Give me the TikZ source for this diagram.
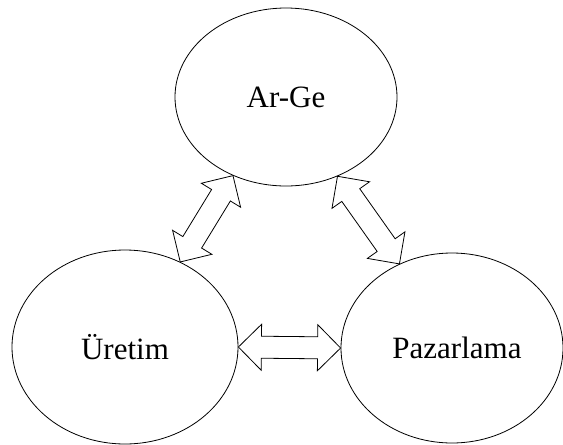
\documentclass[tikz,border=0pt]{standalone}
\usepackage{fontspec}
\setmainfont{Liberation Serif}
\usetikzlibrary{shapes.geometric,calc}
\tikzset{
  bubble/.style={ellipse, draw, line width=0.8pt, inner sep=0pt,
    font=\fontsize{31}{37}\selectfont},
  arrowline/.style={draw, line width=0.8pt, fill=white, line join=miter}
}
\newcommand\twowayarrow[2]{%
  \path[arrowline] (#1)
    -- ($(#1)!23pt!(#2)!23pt!90:(#2)$)
    -- ($(#1)!23pt!(#2)!11pt!90:(#2)$)
    -- ($(#2)!23pt!(#1)!11pt!-90:(#1)$)
    -- ($(#2)!23pt!(#1)!23pt!-90:(#1)$)
    -- (#2)
    -- ($(#2)!23pt!(#1)!23pt!90:(#1)$)
    -- ($(#2)!23pt!(#1)!11pt!90:(#1)$)
    -- ($(#1)!23pt!(#2)!11pt!-90:(#2)$)
    -- ($(#1)!23pt!(#2)!23pt!-90:(#2)$)
    -- cycle;}
\begin{document}
\begin{tikzpicture}[x=1pt,y=-1pt]
\useasboundingbox (0,0) rectangle (563,445);
\node[bubble, minimum width=222pt, minimum height=178pt] (arge) at (286,97) {Ar-Ge};
\node[bubble, minimum width=226pt, minimum height=194pt] (uretim) at (125,347) {Üretim};
\node[bubble, minimum width=222pt, minimum height=190pt] (pazar) at (452,348) {\hspace{10pt}Pazarlama};
\twowayarrow{arge.-124}{uretim.57}
\twowayarrow{arge.-57}{pazar.122}
\twowayarrow{uretim.0}{pazar.180}
\end{tikzpicture}
\end{document}
